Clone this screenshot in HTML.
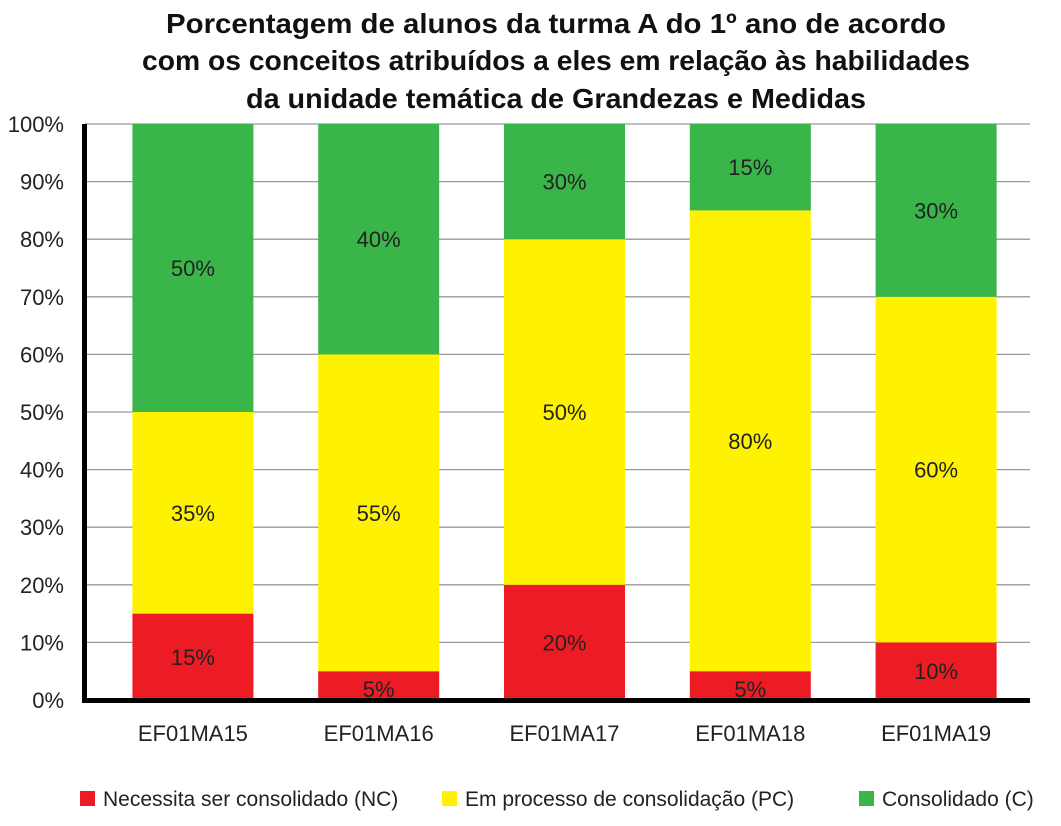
<!DOCTYPE html>
<html><head><meta charset="utf-8"><style>
body{margin:0;background:#fff;}
svg text{font-family:"Liberation Sans",sans-serif;}
</style></head><body>
<svg id="chart" width="1061" height="821" viewBox="0 0 1061 821" xmlns="http://www.w3.org/2000/svg">
<g font-weight="bold" font-size="28" text-anchor="middle" fill="#111">
<text x="556" y="33" textLength="780" lengthAdjust="spacingAndGlyphs">Porcentagem de alunos da turma A do 1º ano de acordo</text>
<text x="556" y="70" textLength="828" lengthAdjust="spacingAndGlyphs">com os conceitos atribuídos a eles em relação às habilidades</text>
<text x="556" y="108" textLength="620" lengthAdjust="spacingAndGlyphs">da unidade temática de Grandezas e Medidas</text>
</g>
<g id="grid"></g><g id="bars"></g><g id="axes"></g>
<g font-size="21" fill="#222">
<rect x="80" y="791" width="15" height="15" fill="#ed1c24"/>
<text x="103" y="806">Necessita ser consolidado (NC)</text>
<rect x="442" y="791" width="15" height="15" fill="#fff200"/>
<text x="465" y="806">Em processo de consolidação (PC)</text>
<rect x="859" y="791" width="15" height="15" fill="#39b54a"/>
<text x="882" y="806">Consolidado (C)</text>
</g>
</svg>
<script>
const categories=["EF01MA15","EF01MA16","EF01MA17","EF01MA18","EF01MA19"];
const nc=[15,5,20,5,10];
const pc=[35,55,60,80,60];
const c=[50,40,20,15,30];
const ncLabels=["15%","5%","20%","5%","10%"];
const pcLabels=["35%","55%","50%","80%","60%"];
const cLabels=["50%","40%","30%","15%","30%"];
const ticks=[0,10,20,30,40,50,60,70,80,90,100];
const NS="http://www.w3.org/2000/svg";
const x0=100,x1=1029,yTop=124,yBot=700,bw=121;
const y=v=>yBot-(yBot-yTop)*v/100;
const xc=i=>x0+(x1-x0)/categories.length*(i+0.5);
function mk(t,a,p){const e=document.createElementNS(NS,t);for(const k in a)e.setAttribute(k,a[k]);p.appendChild(e);return e;}
const grid=document.getElementById('grid'),bars=document.getElementById('bars'),axes=document.getElementById('axes');
ticks.forEach(t=>{
  if(t>0){const l=mk('line',{x1:85,x2:1030,y1:y(t),y2:y(t),stroke:'#999','stroke-width':1.3},grid);
  
  }
  const tx=mk('text',{x:64,y:y(t)+8,'text-anchor':'end','font-size':22,fill:'#222'},axes);
  tx.textContent=t+'%';
  
  
});
const series=[[nc,ncLabels,'#ed1c24','nc'],[pc,pcLabels,'#fff200','pc'],[c,cLabels,'#39b54a','c']];
categories.forEach((cat,i)=>{
  let base=0;
  series.forEach(([arr,labs,col,key])=>{
    const v=arr[i];const top=base+v;
    const r=mk('rect',{x:xc(i)-bw/2,y:y(top),width:bw,height:y(base)-y(top),fill:col},bars);
    
    
    let ty=(y(base)+y(top))/2+8;
    if(v<8) ty=y(base)-3;
    const t=mk('text',{x:xc(i),y:ty,'text-anchor':'middle','font-size':22,fill:'#222'},bars);
    t.textContent=labs[i];
    
    
    base=top;
  });
  const xl=mk('text',{x:xc(i),y:741,'text-anchor':'middle','font-size':22,fill:'#222'},axes);
  xl.textContent=cat;
  
  
});
const ya=mk('line',{x1:84.5,x2:84.5,y1:124,y2:703,stroke:'#000','stroke-width':5},axes);


const xa=mk('line',{x1:82,x2:1030,y1:700.5,y2:700.5,stroke:'#000','stroke-width':5},axes);


</script>
</body></html>
